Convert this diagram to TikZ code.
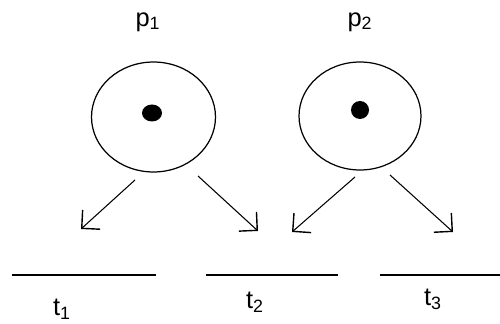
\documentclass[tikz,border=0pt]{standalone}
\usepackage{fontspec}
\setmainfont{Liberation Sans}
\usetikzlibrary{arrows.meta,shapes.geometric}
\tikzset{
  place/.style={draw,ellipse,line width=0.7pt,minimum width=2.48cm,minimum height=2.2cm,inner sep=0pt},
  arc/.style={line width=0.6pt,-{Straight Barb[length=2.6mm,width=5.2mm,line width=0.8pt]}},
  bar/.style={line width=0.7pt},
  lbl/.style={font=\fontsize{14.5}{16}\selectfont,inner sep=0pt}
}
\begin{document}
\begin{tikzpicture}[x=0.02cm,y=-0.02cm]
  \useasboundingbox (0,0) rectangle (500,324);
  % Coordinates
  \coordinate (T1a) at (12,275);
  \coordinate (T1b) at (156,275);
  \coordinate (T2a) at (206,275);
  \coordinate (T2b) at (338,275);
  \coordinate (T3a) at (380,275);
  \coordinate (T3b) at (500,275);
  \coordinate (A1s) at (135,180);
  \coordinate (A1e) at (81,229);
  \coordinate (A2s) at (198,176);
  \coordinate (A2e) at (258,231);
  \coordinate (A3s) at (355,177);
  \coordinate (A3e) at (292,232);
  \coordinate (A4s) at (390,175);
  \coordinate (A4e) at (453,232);

  % Places
  \node[place] (P1) at (153.5,117) {};
  \node[place,minimum width=2.44cm,minimum height=2.16cm] (P2) at (360,116) {};
  \fill[black] (152,113) ellipse (10 and 8.5);
  \fill[black] (360,110) circle (9);

  % Labels
  \node[lbl] (LP1) at (148,22) {p\textsubscript{1}};
  \node[lbl] (LP2) at (360,22) {p\textsubscript{2}};
  \node[lbl] (LT1) at (62,309) {t\textsubscript{1}};
  \node[lbl] (LT2) at (255,302) {t\textsubscript{2}};
  \node[lbl] (LT3) at (433,299) {t\textsubscript{3}};

  % Drawing
  \draw[bar] (T1a) -- (T1b);
  \draw[bar] (T2a) -- (T2b);
  \draw[bar] (T3a) -- (T3b);
  \draw[arc] (A1s) -- (A1e);
  \draw[arc] (A2s) -- (A2e);
  \draw[arc] (A3s) -- (A3e);
  \draw[arc] (A4s) -- (A4e);
\end{tikzpicture}
\end{document}
